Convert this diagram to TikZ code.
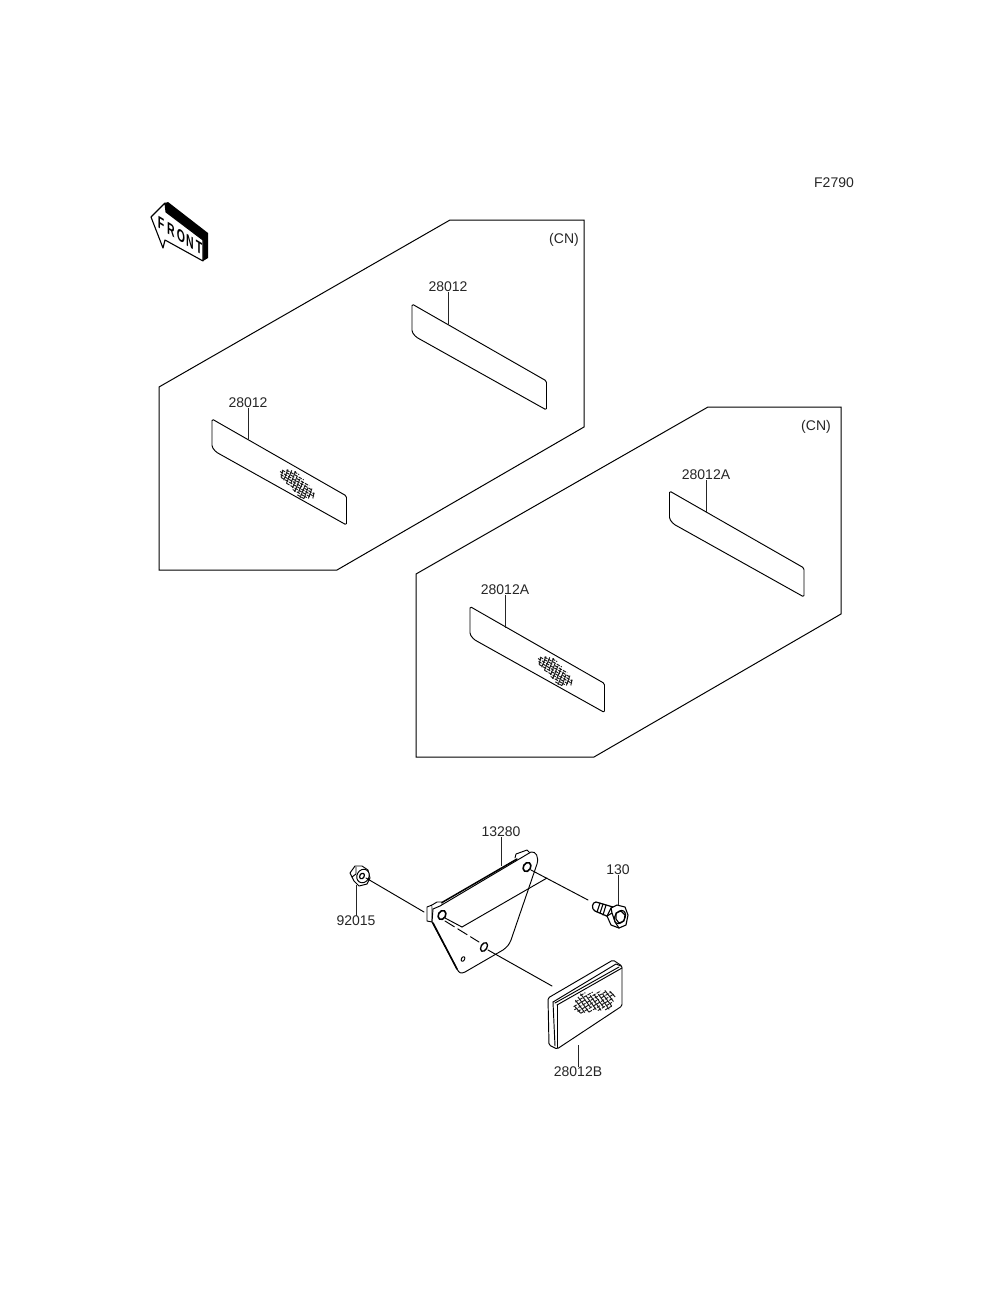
\documentclass[tikz,border=0pt]{standalone}
\usepackage{fontspec}
\setmainfont{Liberation Sans}
\tikzset{
 lbl/.style={inner sep=0pt,font=\fontsize{14}{15}\selectfont,text=black!85},
 part/.style={draw=black,line width=0.95pt,line join=round,line cap=round},
 panel/.style={draw=black,line width=1pt,line join=miter},
 leader/.style={draw=black!85,line width=1pt},
 hole/.style={part,fill=white,line width=1.3pt},
 frontletter/.style={inner sep=0pt,transform shape,yslant=-0.6,xscale=0.62,font=\fontsize{17}{17}\bfseries\selectfont},
}
\newcommand{\hatchblob}[5]{% x,y,rot,xscale,yscale
 \begin{scope}[shift={(#1,#2)},rotate=#3,xscale=#4,yscale=#5,line width=0.95pt,black!90]
  \foreach \v/\a/\b in {-8/-9/-3,-6/-17/4,-4/-21/-6,-4/-3/12,-2/-22/16,0/-20/6,0/9/21,2/-18/22,4/-10/19,6/-1/16,8/6/14}{
    \draw[dash pattern=on 3.5pt off 1.2pt] (\a,\v) -- (\b,\v);
  }
  \foreach \u/\a/\b in {-20/-4/2,-16/-7/3,-12/-8/4,-8/-9/2,-4/-6/5,0/-5/7,4/-4/6,8/-3/9,12/-2/8,16/-3/6,20/-1/4}{
    \draw (\u,\a) -- (\u+2,\b);
  }
 \end{scope}
}
\begin{document}
\begin{tikzpicture}[x=1pt,y=-1pt]
\useasboundingbox (0,0) rectangle (1000,1309);
\fill[white] (0,0) rectangle (1000,1309);

% texts
\node[lbl] (fig) at (834,183) {F2790};
\node[lbl] (cn1) at (564,240) {(CN)};
\node[lbl] (cn2) at (816,427) {(CN)};

% front arrow
\fill[black] (165,203) -- (168,202) -- (208,233) -- (208,258) -- (203,261) -- (203,240) -- (166,212) -- cycle;
\draw[part,fill=white,line width=1.1pt] (151,217) -- (165,203) -- (166,212) -- (203,240) -- (203,261) -- (165,240) -- (163,248) -- cycle;
\node[frontletter] (f1) at (161,224) {F};
\node[frontletter] (f2) at (171,230) {R};
\node[frontletter] (f3) at (181,236) {O};
\node[frontletter] (f4) at (190,242) {N};
\node[frontletter] (f5) at (199,248) {T};

% panels
\draw[panel] (450,220) -- (584,220) -- (584,427) -- (337,570) -- (159,570) -- (159,387) -- cycle;
\draw[panel] (708,407) -- (841,407) -- (841,614) -- (594,757) -- (416,757) -- (416,574) -- cycle;

% strips
\newcommand{\stripshape}[2]{%
 \draw[part,rounded corners=1.5pt] (#1,#2) -- (#1+134.5,#2+77) -- (#1+134.5,#2+106) -- (#1+4,#2+33) -- (#1,#2+28) -- cycle;}
\stripshape{412}{304}
\stripshape{212}{419}
\stripshape{669.5}{491}
\stripshape{470}{606.5}

\hatchblob{297}{484}{-30}{0.95}{1.15}
\hatchblob{555}{671}{-30}{0.95}{1.15}

% strip labels and leaders
\node[lbl] (a1) at (448,287) {28012};
\coordinate (a1e) at (448,325);
\draw[leader] (a1) -- (a1e);
\node[lbl] (a2) at (248,403) {28012};
\coordinate (a2e) at (248,439);
\draw[leader] (a2) -- (a2e);
\node[lbl] (b1) at (706,475) {28012A};
\coordinate (b1e) at (706,513);
\draw[leader] (b1) -- (b1e);
\node[lbl] (b2) at (505,590) {28012A};
\coordinate (b2e) at (505,628);
\draw[leader] (b2) -- (b2e);

% bracket: flange behind
\draw[part,fill=white] (427,907) -- (427,921) -- (432,922) -- (432,905) -- cycle;
\draw[part,fill=white] (432,905) -- (437,902) -- (442,902) -- (442,908) -- (434,912);
\draw[part,fill=white] (515,858) -- (516,854) -- (527,850) -- (530,853);
\draw[part,line width=1.5pt] (442,902.5) -- (517,859);
\draw[part] (440,907) -- (527,856);
% plate
\draw[part,fill=white] (432,922)
  -- (457,969) .. controls (459,973) and (461,974) .. (465,972)
  -- (503,950) .. controls (507,947) and (509,945) .. (511,940)
  -- (537,864) .. controls (539,857) and (536,851) .. (531,852)
  -- (440,906) -- (433,909) -- cycle;
\draw[part,line width=1.6pt] (433,923) -- (457,969);
% inner bend
\coordinate (bendl) at (462,927);
\coordinate (bendr) at (547,878);
\draw[part] (bendl) -- (bendr);
% holes
\draw[hole,line width=1.6pt,rotate around={60:(442,915)}] (442,915) ellipse (4.8 and 3.6);
\draw[hole,line width=1.6pt,rotate around={60:(527,867)}] (527,867) ellipse (4.8 and 3.6);
\draw[hole,rotate around={60:(484,947)}] (484,947) ellipse (4.8 and 3);
\draw[part,fill=white,rotate around={60:(463,959)}] (463,959) ellipse (2.5 and 1.6);
\coordinate (h1) at (445,918);
\draw[part] (h1) -- (bendl);

% nut
\node[lbl] (nutlbl) at (356,921) {92015};
\draw[part,fill=white] (350,873) -- (355,866) -- (362,866) -- (368,870) -- (370,878) -- (367,884) -- (359,886) -- (354,881) -- (352,877) -- cycle;
\draw[part] (352,877) -- (356,874) -- (356,867);
\draw[part,fill=white,rotate around={60:(363,876)}] (363,876) ellipse (7 and 6);
\draw[part,fill=white,line width=1.2pt,rotate around={60:(362,876)}] (362,876) ellipse (3 and 2.2);
\coordinate (nutb) at (356,885);
\draw[leader] (nutlbl) -- (nutb);
% axis lines
\coordinate (n1) at (366,878);
\coordinate (n2) at (424,912);
\draw[part] (n1) -- (n2);
\coordinate (d1) at (445,921);
\coordinate (d2) at (479,942);
\draw[part,dash pattern=on 11pt off 4pt] (d1) -- (d2);
\coordinate (r1) at (488,950);
\coordinate (r2) at (552,986);
\draw[part] (r1) -- (r2);
\coordinate (c1) at (531,870);
\coordinate (c2) at (588,900);
\draw[part] (c1) -- (c2);

% bolt
\node[lbl] (boltlbl) at (618,870) {130};
\draw[part,fill=white,line width=1.2pt] (596,902) .. controls (592,902) and (591,909) .. (595,911) -- (609,917) -- (613,907) -- cycle;
\draw[part,line width=1.1pt] (600,903) -- (597,912) (603,904) -- (600,913) (606,905) -- (603,915);
\draw[part,fill=white,line width=1.1pt] (611,908) -- (617,905) -- (625,907) -- (628,915) -- (626,925) -- (619,928) -- (611,925) -- (607,916) -- cycle;
\draw[part,line width=1.1pt] (607,916) -- (612,913) -- (611,908) (612,913) -- (615,922) -- (619,928);
\draw[part,fill=white,line width=1.1pt,rotate around={60:(620,917)}] (620,917) ellipse (7 and 5);
\draw[part,line width=1.1pt] (616,913) -- (621,911) -- (625,915) -- (624,921) -- (619,923) -- (616,919) -- cycle;
\coordinate (bolttop) at (618,905);
\draw[leader] (boltlbl) -- (bolttop);

% bracket label
\node[lbl] (brlbl) at (501,832) {13280};
\coordinate (brb) at (501,866);
\draw[leader] (brlbl) -- (brb);

% reflector
\draw[part,fill=white,rounded corners=1.5pt] (548,998) -- (613,960) -- (622,966) -- (622,1006) -- (557,1049) -- (549,1045) -- cycle;
\draw[part] (553,1002) -- (616,964) -- (621,966);
\draw[part] (553,1002) -- (555,1046);
\draw[part] (555,1003) -- (619,967);
\draw[part] (557,1005) -- (622,968);
\draw[part] (557,1005) -- (557,1048);
\hatchblob{594}{1002}{30}{0.95}{1.55}
\node[lbl] (reflbl) at (578,1072) {28012B};
\coordinate (refb) at (578,1045);
\draw[leader] (reflbl) -- (refb);
\end{tikzpicture}
\end{document}
